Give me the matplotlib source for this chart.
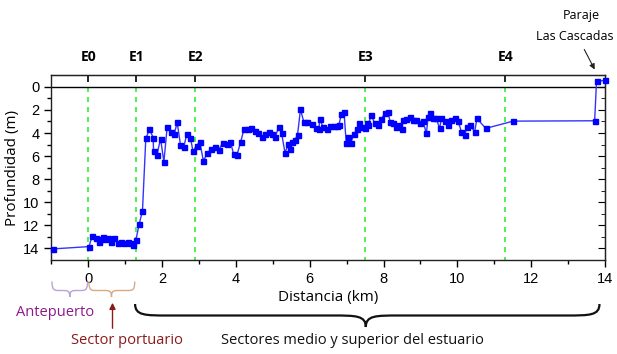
import matplotlib
matplotlib.use('Agg')
import matplotlib.pyplot as plt
from matplotlib.path import Path
from matplotlib.patches import PathPatch
import matplotlib.transforms as mtransforms

# depth profile along the estuary (distance km, depth m)
dist = [-0.96, 0.02, 0.11, 0.20, 0.28, 0.33, 0.41, 0.46, 0.53, 0.61, 0.70, 0.80, 0.89, 0.97,
        1.07, 1.13, 1.20, 1.29, 1.38, 1.47, 1.56, 1.66, 1.76, 1.77, 1.86, 1.96, 2.05, 2.14,
        2.24, 2.33, 2.41, 2.50, 2.59, 2.67, 2.77, 2.84, 2.94, 3.02, 3.12, 3.23, 3.33, 3.43,
        3.54, 3.64, 3.75, 3.85, 3.94, 4.03, 4.13, 4.22, 4.33, 4.42, 4.52, 4.61, 4.71, 4.80,
        4.89, 4.99, 5.07, 5.16, 5.24, 5.33, 5.42, 5.48, 5.51, 5.60, 5.67, 5.75, 5.84, 5.93,
        6.05, 6.17, 6.25, 6.27, 6.36, 6.46, 6.56, 6.65, 6.74, 6.79, 6.86, 6.93, 6.99, 7.04,
        7.11, 7.20, 7.28, 7.34, 7.43, 7.49, 7.54, 7.58, 7.67, 7.76, 7.85, 7.94, 8.03, 8.12,
        8.18, 8.26, 8.35, 8.42, 8.49, 8.53, 8.62, 8.71, 8.80, 8.89, 8.98, 9.07, 9.16, 9.21,
        9.27, 9.34, 9.43, 9.52, 9.57, 9.66, 9.75, 9.84, 9.93, 10.02, 10.11, 10.20, 10.26,
        10.34, 10.47, 10.53, 10.77, 11.51, 13.72, 13.77, 14.00]
depth = [14.04, 13.84, 12.9, 13.1, 13.4, 13.2, 12.97, 13.2, 13.1, 13.4, 13.1, 13.5, 13.4, 13.5,
         13.4, 13.5, 13.7, 13.3, 11.9, 10.75, 4.47, 3.69, 4.4, 5.6, 5.9, 4.5, 6.5, 3.46,
         3.95, 4.1, 3.08, 5.04, 5.2, 4.1, 4.44, 5.6, 5.1, 4.75, 6.4, 5.76, 5.39, 5.19,
         5.45, 4.87, 4.98, 4.76, 5.82, 5.9, 4.78, 3.66, 3.66, 3.6, 3.83, 4.03, 4.38, 4.12,
         3.89, 4.1, 4.32, 3.46, 4.03, 5.7, 4.98, 5.39, 4.76, 4.6, 4.18, 1.96, 3.03, 3.03,
         3.25, 3.55, 3.69, 2.8, 3.46, 3.66, 3.37, 3.37, 3.37, 3.31, 2.36, 2.16, 4.9, 4.32,
         4.84, 4.12, 3.69, 3.17, 3.46, 3.6, 3.17, 3.31, 2.45, 3.17, 3.31, 2.8, 2.3, 2.16,
         3.03, 3.17, 3.46, 3.31, 3.69, 2.88, 2.8, 2.6, 2.88, 2.88, 3.17, 2.97, 4.03, 2.6,
         2.3, 2.68, 2.74, 3.6, 2.74, 2.97, 3.31, 2.88, 2.74, 2.97, 3.89, 4.18, 3.46,
         3.31, 3.89, 2.74, 3.6, 2.97, 2.94, -0.49, -0.55]

stations = ['E0', 'E1', 'E2', 'E3', 'E4']
station_km = [0, 1.3, 2.9, 7.5, 11.3]

W, H = 617, 354
fig = plt.figure(figsize=(W / 100, H / 100), dpi=100)
ax = fig.add_axes([51.3 / W, 1 - 260 / H, (605 - 51.3) / W, (260 - 75.3) / H])

txt_font = ['Open Sans', 'DejaVu Sans']
tick_font = 'Liberation Sans'

for xs in station_km:
    ax.plot([xs, xs], [0, 15], color='#33ee33', lw=1.2, ls=(0, (3, 3)), zorder=1)
ax.axhline(0, color='black', lw=1.0, zorder=1)
ax.plot(dist, depth, color='#3333ff', lw=1.0, marker='s', ms=3.6,
        mfc='#0000ff', mec='#0000ff', zorder=3, clip_on=False)

ax.set_xlim(-1, 14)
ax.set_ylim(15, -1)
ax.set_xticks(range(0, 15, 2))
ax.set_xticks(range(-1, 15, 2), minor=True)
ax.set_yticks(range(0, 15, 2))
ax.set_yticks(range(1, 15, 2), minor=True)
ax.tick_params(which='major', length=5, width=1, direction='out', labelsize=10.5)
ax.tick_params(which='minor', length=3, width=1, direction='out')
for lab in ax.get_xticklabels() + ax.get_yticklabels():
    lab.set_fontfamily(tick_font)
for sp in ax.spines.values():
    sp.set_linewidth(1.0)
    sp.set_color('#222222')

# right-side inward ticks
sec = ax.secondary_yaxis('right')
sec.set_yticks(range(0, 15, 2))
sec.set_yticks(range(1, 15, 2), minor=True)
sec.tick_params(which='major', direction='in', length=5, labelright=False)
sec.tick_params(which='minor', direction='in', length=3)

# top axis with station labels
top = ax.secondary_xaxis('top')
top.set_xticks(station_km)
top.set_xticklabels(stations, fontweight='bold', fontsize=10, family=txt_font)
top.tick_params(direction='in', length=5, width=1.2, pad=8)

ax.set_xlabel('Distancia (km)', fontsize=11, family=txt_font, labelpad=3)
ax.set_ylabel('Profundidad (m)', fontsize=11, family=txt_font, labelpad=2)


def fy(py):
    return 1 - py / H


trans = mtransforms.blended_transform_factory(ax.transData, fig.transFigure)


def brace(x0, x1, xm, ytop, ymid, ytip, curl, color, lw):
    verts = [(x0, ytop), (x0, ymid), (x0 + curl * 0.3, ymid), (x0 + curl, ymid),
             (xm - curl, ymid),
             (xm - curl * 0.3, ymid), (xm, ymid), (xm, ytip),
             (xm, ymid), (xm + curl * 0.3, ymid), (xm + curl, ymid),
             (x1 - curl, ymid),
             (x1 - curl * 0.3, ymid), (x1, ymid), (x1, ytop)]
    codes = [Path.MOVETO, Path.CURVE4, Path.CURVE4, Path.CURVE4, Path.LINETO,
             Path.CURVE4, Path.CURVE4, Path.CURVE4,
             Path.CURVE4, Path.CURVE4, Path.CURVE4, Path.LINETO,
             Path.CURVE4, Path.CURVE4, Path.CURVE4]
    patch = PathPatch(Path(verts, codes), fill=False, ec=color, lw=lw,
                      transform=trans, clip_on=False)
    fig.add_artist(patch)


brace(-0.98, -0.02, -0.5, fy(281.5), fy(290.5), fy(297), 0.2, '#b9a3d6', 1.0)
brace(0.02, 1.26, 0.63, fy(281.5), fy(290.5), fy(297), 0.2, '#d9aa82', 1.0)
brace(1.27, 13.85, 7.52, fy(304), fy(315.5), fy(327), 0.9, '#111111', 1.6)

fig.text(55 / W, fy(312), 'Antepuerto', color='#8b1a8b', fontsize=10.5,
         family=txt_font, ha='center', va='center')
fig.text(127 / W, fy(341), 'Sector portuario', color='#8b1a1a', fontsize=10.5,
         family=txt_font, ha='center', va='center')
fig.text(352 / W, fy(341), 'Sectores medio y superior del estuario', color='#111111',
         fontsize=10.5, family=txt_font, ha='center', va='center')
fig.add_artist(matplotlib.patches.FancyArrowPatch(
    (112.5 / W, fy(331)), (112.5 / W, fy(300)), transform=fig.transFigure,
    arrowstyle='-|>', mutation_scale=9, color='#8b1a1a', lw=1.0))

fig.text(581 / W, fy(15), 'Paraje', fontsize=9, family=txt_font, ha='center', va='center')
fig.text(575 / W, fy(36), 'Las Cascadas', fontsize=9, family=txt_font, ha='center', va='center')
fig.add_artist(matplotlib.patches.FancyArrowPatch(
    (583 / W, fy(47)), (596 / W, fy(72)), transform=fig.transFigure,
    arrowstyle='-|>', mutation_scale=8, color='#222222', lw=0.8))

fig.savefig('out.png', dpi=100)
